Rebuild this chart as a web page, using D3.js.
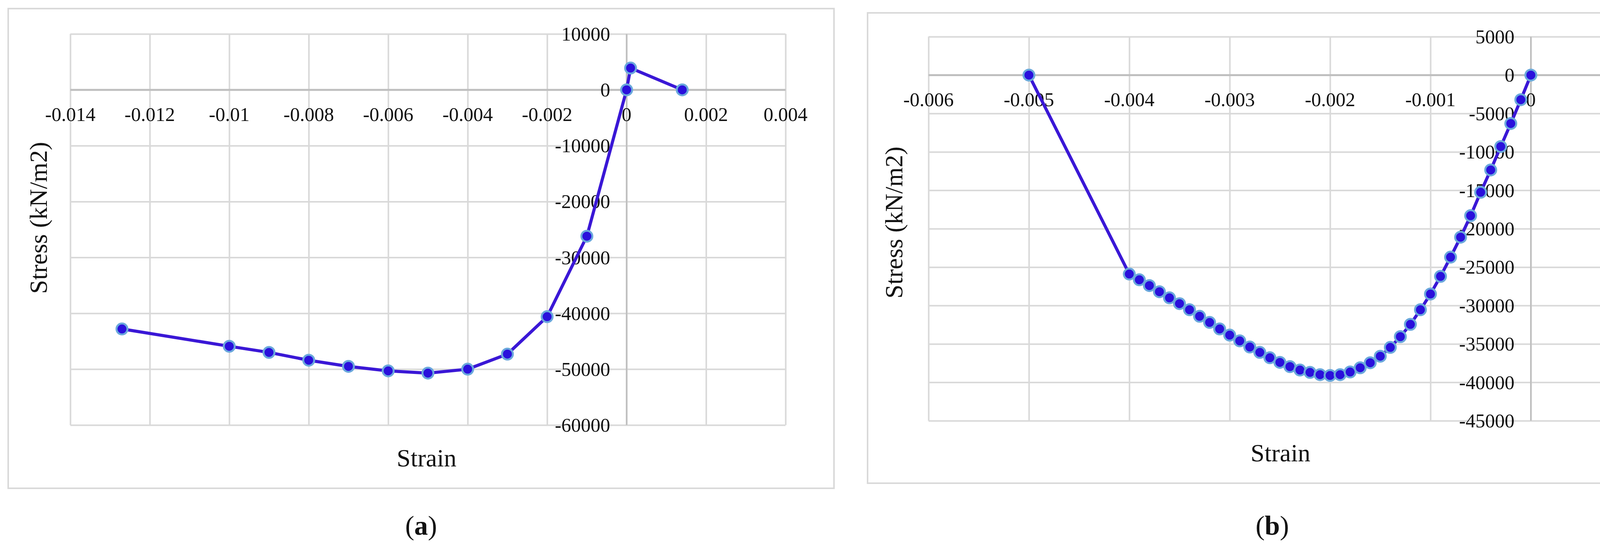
<!DOCTYPE html>
<html>
<head>
<meta charset="utf-8">
<script src="https://cdn.jsdelivr.net/npm/d3@7"></script>
<style>
  body { margin: 0; background: #fff; }
  text { font-family: "Liberation Serif", "DejaVu Serif", serif; fill: #111; }
</style>
</head>
<body>
<svg id="chart" width="4313" height="1404"></svg>
<script>
  // panel (a)
  const strainA = [-0.0127, -0.01, -0.009, -0.008, -0.007, -0.006, -0.005, -0.004, -0.003, -0.002, -0.001, 0, 0.0001, 0.0014];
  const stressA = [-42800, -45900, -47000, -48400, -49500, -50300, -50700, -50000, -47300, -40600, -26200, 0, 3900, 0];
  const xTicksA = [-0.014, -0.012, -0.01, -0.008, -0.006, -0.004, -0.002, 0, 0.002, 0.004];
  const yTicksA = [10000, 0, -10000, -20000, -30000, -40000, -50000, -60000];

  // panel (b)
  const strainB = [-0.005, -0.004, -0.0039, -0.0038, -0.0037, -0.0036, -0.0035, -0.0034, -0.0033, -0.0032, -0.0031,
    -0.003, -0.0029, -0.0028, -0.0027, -0.0026, -0.0025, -0.0024, -0.0023, -0.0022, -0.0021,
    -0.002, -0.0019, -0.0018, -0.0017, -0.0016, -0.0015, -0.0014, -0.0013, -0.0012, -0.0011,
    -0.001, -0.0009, -0.0008, -0.0007, -0.0006, -0.0005, -0.0004, -0.0003, -0.0002, -0.0001, 0];
  const stressB = [0, -25900, -26650, -27400, -28200, -29000, -29750, -30550, -31400, -32200, -33050,
    -33850, -34600, -35400, -36100, -36800, -37400, -37950, -38400, -38700, -39000,
    -39100, -39000, -38650, -38100, -37450, -36600, -35450, -34050, -32450, -30550,
    -28500, -26200, -23700, -21100, -18300, -15250, -12350, -9300, -6300, -3200, 0];
  const xTicksB = [-0.006, -0.005, -0.004, -0.003, -0.002, -0.001, 0, 0.001];
  const yTicksB = [5000, 0, -5000, -10000, -15000, -20000, -25000, -30000, -35000, -40000, -45000];

  const svg = d3.select('#chart');
  const fmt = v => String(+v.toPrecision(6));

  function drawPanel(p) {
    const g = svg.append('g');
    g.append('rect').attr('x', p.frame[0]).attr('y', p.frame[1])
      .attr('width', p.frame[2]).attr('height', p.frame[3])
      .attr('fill', 'none').attr('stroke', '#d9d9d9').attr('stroke-width', 4);

    const x = d3.scaleLinear().domain(d3.extent(p.xTicks)).range(p.xr);
    const y = d3.scaleLinear().domain(d3.extent(p.yTicks)).range(p.yr);

    // grid
    g.append('g').attr('transform', `translate(0,${p.yr[0]})`)
      .call(d3.axisBottom(x).tickValues(p.xTicks).tickSize(-(p.yr[0] - p.yr[1])).tickFormat(''))
      .call(a => a.select('.domain').remove())
      .selectAll('line').attr('stroke', '#d9d9d9').attr('stroke-width', 4);
    g.append('g').attr('transform', `translate(${p.xr[0]},0)`)
      .call(d3.axisLeft(y).tickValues(p.yTicks).tickSize(-(p.xr[1] - p.xr[0])).tickFormat(''))
      .call(a => a.select('.domain').remove())
      .selectAll('line').attr('stroke', '#d9d9d9').attr('stroke-width', 4);

    // zero axes
    g.append('line').attr('x1', p.xr[0]).attr('x2', p.xr[1]).attr('y1', y(0)).attr('y2', y(0))
      .attr('stroke', '#bfbfbf').attr('stroke-width', 5);
    g.append('line').attr('x1', x(0)).attr('x2', x(0)).attr('y1', p.yr[0]).attr('y2', p.yr[1])
      .attr('stroke', '#bfbfbf').attr('stroke-width', 4);

    // tick labels
    g.selectAll('.xl').data(p.xTicks).enter().append('text')
      .attr('x', d => x(d)).attr('y', y(0) + 80).attr('text-anchor', 'middle')
      .attr('font-size', 50).text(fmt);
    g.selectAll('.yl').data(p.yTicks).enter().append('text')
      .attr('x', x(0) - 42).attr('y', d => y(d) + 17).attr('text-anchor', 'end')
      .attr('font-size', 50).text(fmt);

    // titles
    g.append('text').attr('x', p.strainPos[0]).attr('y', p.strainPos[1]).attr('text-anchor', 'middle')
      .attr('font-size', 64).text('Strain');
    g.append('text').attr('transform', `translate(${p.stressPos[0]},${p.stressPos[1]}) rotate(-90)`)
      .attr('text-anchor', 'middle').attr('font-size', 64).text('Stress (kN/m2)');
    const lab = g.append('text').attr('x', p.labelPos[0]).attr('y', p.labelPos[1])
      .attr('text-anchor', 'middle').attr('font-size', 70);
    lab.append('tspan').text('(');
    lab.append('tspan').attr('font-weight', 'bold').text(p.label);
    lab.append('tspan').text(')');

    const pts = p.xs.map((v, i) => [v, p.ys[i]]);
    g.append('path').datum(pts)
      .attr('d', d3.line().x(d => x(d[0])).y(d => y(d[1])))
      .attr('fill', 'none').attr('stroke', '#3a17d6').attr('stroke-width', 8);
    g.selectAll('.pt').data(pts).enter().append('circle')
      .attr('cx', d => x(d[0])).attr('cy', d => y(d[1])).attr('r', 14)
      .attr('fill', '#2a10dc').attr('stroke', '#6aa8dc').attr('stroke-width', 5);
  }

  drawPanel({
    frame: [21, 22, 2114, 1229], xr: [180, 2011], yr: [1089, 87],
    xTicks: xTicksA, yTicks: yTicksA, xs: strainA, ys: stressA,
    strainPos: [1092, 1195], stressPos: [120, 558], labelPos: [1078, 1370], label: 'a'
  });
  drawPanel({
    frame: [2221, 33, 2074, 1205], xr: [2377, 4176], yr: [1078, 94],
    xTicks: xTicksB, yTicks: yTicksB, xs: strainB, ys: stressB,
    strainPos: [3278, 1182], stressPos: [2310, 570], labelPos: [3257, 1370], label: 'b'
  });
</script>
</body>
</html>
